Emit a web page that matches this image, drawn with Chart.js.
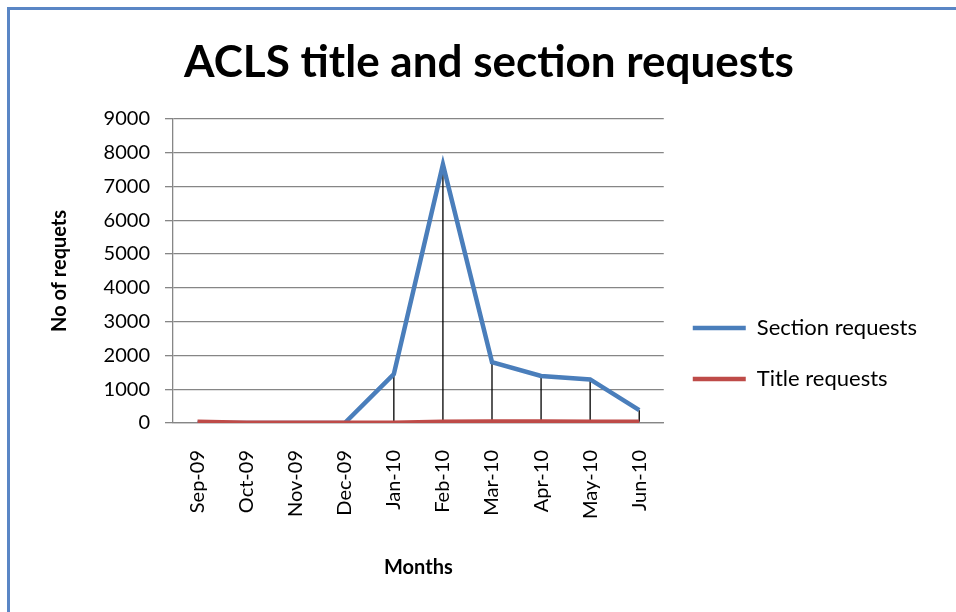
<!DOCTYPE html>
<html>
<head>
<meta charset="utf-8">
<script src="https://cdn.jsdelivr.net/npm/chart.js@4/dist/chart.umd.min.js"></script>
<style>
  html, body { margin: 0; padding: 0; background: #fff; }
  #wrap { position: relative; width: 956px; height: 612px; overflow: hidden; }
  #frame {
    position: absolute; left: 7px; top: 7px; width: 1000px; height: 700px;
    border-top: 3px solid #5a86c5; border-left: 3px solid #5a86c5;
  }
  #chart { position: absolute; left: 0; top: 0; }
</style>
</head>
<body>
<div id="wrap">
  <div id="frame"></div>
  <canvas id="chart" width="956" height="612"></canvas>
</div>
<script>
const months = ["Sep-09", "Oct-09", "Nov-09", "Dec-09", "Jan-10", "Feb-10", "Mar-10", "Apr-10", "May-10", "Jun-10"];
const sectionRequests = [0, 0, 0, 0, 1450, 7650, 1800, 1390, 1290, 380];
const titleRequests = [40, 5, 5, 5, 5, 40, 45, 45, 40, 40];
const yTicks = [0, 1000, 2000, 3000, 4000, 5000, 6000, 7000, 8000, 9000];

const FONT = "Lato, 'Open Sans', sans-serif";
Chart.defaults.font.family = FONT;
Chart.defaults.color = "#000";

// plot area is kept at x 173..664, y 119..423 like the original
const PAD_LEFT = 51;
const PAD_RIGHT = 29;

// Excel-style drop lines between the two series at every category
const dropLines = {
  id: "dropLines",
  beforeDatasetsDraw(chart) {
    const a = chart.getDatasetMeta(0).data;
    const b = chart.getDatasetMeta(1).data;
    const ctx = chart.ctx;
    ctx.save();
    ctx.strokeStyle = "#000";
    ctx.lineWidth = 1.3;
    for (let i = 0; i < a.length; i++) {
      if (!a[i] || !b[i]) continue;
      if (Math.abs(a[i].y - b[i].y) < 2) continue;
      ctx.beginPath();
      ctx.moveTo(a[i].x, a[i].y);
      ctx.lineTo(b[i].x, b[i].y);
      ctx.stroke();
    }
    ctx.restore();
  },
};

new Chart(document.getElementById("chart"), {
  type: "line",
  data: {
    labels: months,
    datasets: [
      {
        label: "Section requests",
        data: sectionRequests,
        borderColor: "#4a7ebb",
        backgroundColor: "#4a7ebb",
        borderWidth: 4.5,
        pointRadius: 0,
        tension: 0,
        order: 2,
      },
      {
        label: "Title requests",
        data: titleRequests,
        borderColor: "#be4b48",
        backgroundColor: "#be4b48",
        borderWidth: 4.5,
        pointRadius: 0,
        tension: 0,
        order: 1,
      },
    ],
  },
  options: {
    responsive: false,
    animation: false,
    layout: { padding: { left: PAD_LEFT, right: PAD_RIGHT, top: 0, bottom: 0 } },
    plugins: {
      title: {
        display: true,
        text: "ACLS title and section requests",
        color: "#000",
        font: { size: 44, weight: "bold", lineHeight: 1.2 },
        padding: { top: 36, bottom: 30 },
      },
      legend: {
        display: true,
        position: "right",
        align: "start",
        maxWidth: 320,
        // empty legend title only pushes the items down
        title: { display: true, text: " ", font: { size: 1, lineHeight: 1 }, padding: { top: 287, bottom: 0 } },
        labels: {
          usePointStyle: true,
          pointStyle: "line",
          pointStyleWidth: 53,
          color: "#000",
          padding: 29,
          font: { size: 22 },
          sort: (a, b) => a.datasetIndex - b.datasetIndex,
        },
      },
      tooltip: { enabled: false },
    },
    scales: {
      x: {
        offset: true,
        afterFit: (s) => { s.height = 612 - 423; },
        grid: { display: false },
        border: { display: true, color: "#868686", width: 1.3 },
        ticks: { minRotation: 90, maxRotation: 90, padding: 19, font: { size: 20 }, color: "#000" },
        title: {
          display: true,
          text: "Months",
          color: "#000",
          font: { size: 20, weight: "bold", lineHeight: 1.2 },
          padding: { top: 0, bottom: 32 },
        },
      },
      y: {
        min: 0,
        max: 9000,
        afterFit: (s) => { s.width = 173 - PAD_LEFT; },
        afterBuildTicks: (s) => { s.ticks = yTicks.map((v) => ({ value: v })); },
        grid: { color: "#868686", lineWidth: 1.3, tickLength: 8, tickColor: "#868686" },
        border: { display: true, color: "#868686", width: 1.3 },
        ticks: { padding: 15, font: { size: 20 }, color: "#000", callback: (v) => String(v) },
        title: {
          display: true,
          text: "No of requets",
          color: "#000",
          font: { size: 20, weight: "bold", lineHeight: 1.2 },
          padding: { top: 60 - PAD_LEFT - 12, bottom: 0 },
        },
      },
    },
  },
  plugins: [dropLines],
});
</script>
</body>
</html>
